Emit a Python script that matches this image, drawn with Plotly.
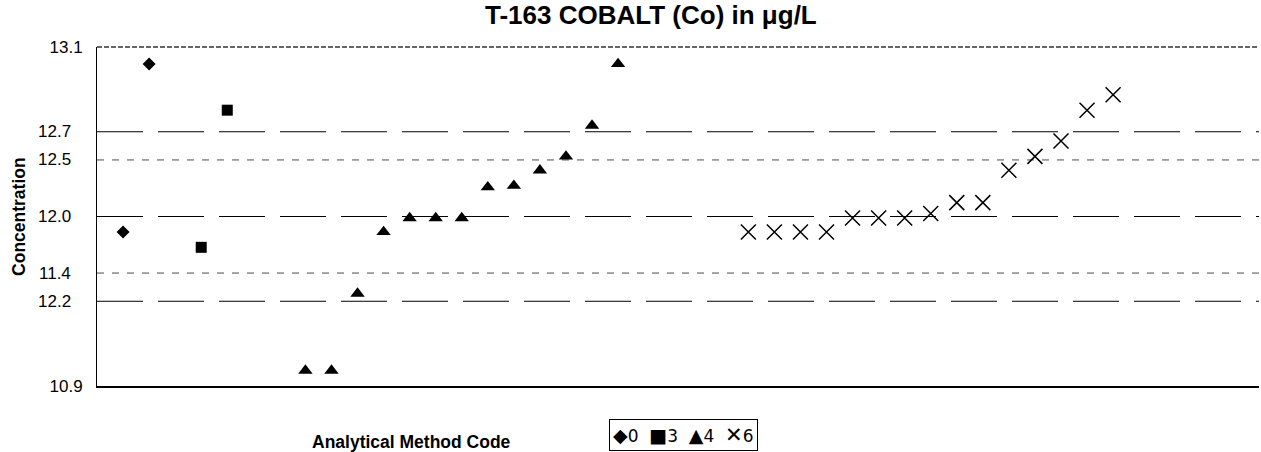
import plotly.graph_objects as go

# ---- data ----
method_codes = ["0", "3", "4", "6"]
legend_symbols = ["◆", "■", "▲", "✕"]

diamond_x = [1, 2]
diamond_y = [11.90, 12.99]

square_x = [4, 5]
square_y = [11.80, 12.69]

tri_x = [8, 9, 10, 11, 12, 13, 14, 15, 16, 17, 18, 19, 20]
tri_y = [11.00, 11.00, 11.50, 11.90, 11.99, 11.99, 11.99, 12.19, 12.20, 12.30, 12.39, 12.59, 12.99]

cross_x = [25, 26, 27, 28, 29, 30, 31, 32, 33, 34, 35, 36, 37, 38, 39]
cross_y = [11.90, 11.90, 11.90, 11.90, 11.99, 11.99, 11.99, 12.02, 12.09, 12.09, 12.30, 12.39, 12.49, 12.69, 12.79]

# reference lines (mean, +/- limits) and their printed labels
long_dash_y = [12.55, 12.0, 11.45]
short_dash_y = [12.367, 11.633]
inner_label_y = [12.55, 12.367, 12.0, 11.633, 11.45]
inner_label_text = ["12.7", "12.5", "12.0", "11.4", "12.2"]
axis_tick_y = [10.9, 13.1]
axis_tick_text = ["10.9", "13.1"]

y_range = [10.9, 13.1]
x_range = [0, 44.6]

FONT = "Liberation Sans, Arial, sans-serif"

fig = go.Figure()
fig.add_trace(go.Scatter(x=diamond_x, y=diamond_y, mode="markers", name=method_codes[0],
                         marker=dict(symbol="diamond", size=10, color="black")))
fig.add_trace(go.Scatter(x=square_x, y=square_y, mode="markers", name=method_codes[1],
                         marker=dict(symbol="square", size=11, color="black")))
fig.add_trace(go.Scatter(x=tri_x, y=tri_y, mode="markers", name=method_codes[2],
                         marker=dict(symbol="triangle-up", size=12.5, color="black")))
fig.add_trace(go.Scatter(x=cross_x, y=cross_y, mode="markers", name=method_codes[3],
                         marker=dict(symbol="x-thin-open", size=15, color="black",
                                     line=dict(color="black", width=1.5))))

for yv in long_dash_y:
    fig.add_shape(type="line", xref="paper", x0=0, x1=1, yref="y", y0=yv, y1=yv,
                  line=dict(color="black", width=1, dash="46px,15px"), layer="below")
for yv in short_dash_y:
    fig.add_shape(type="line", xref="paper", x0=0, x1=1, yref="y", y0=yv, y1=yv,
                  line=dict(color="#4d4d4d", width=1, dash="7px,8px"), layer="below")
# top border line
fig.add_shape(type="line", xref="paper", x0=0, x1=1, yref="paper", y0=1, y1=1,
              line=dict(color="#333333", width=1.5, dash="5px,2px"), layer="below")

for yv, txt in zip(inner_label_y, inner_label_text):
    fig.add_annotation(x=-0.0207, xref="paper", y=yv, yref="y", text=txt, showarrow=False,
                       xanchor="right", yanchor="middle",
                       font=dict(family=FONT, size=17, color="black"))

fig.add_annotation(x=0.4768, xref="paper", y=1.094, yref="paper",
                   text="<b>T-163 COBALT (Co) in μg/L</b>", showarrow=False,
                   xanchor="center", yanchor="middle",
                   font=dict(family=FONT, size=26, color="black"))
fig.add_annotation(x=0.2703, xref="paper", y=-0.165, yref="paper",
                   text="<b>Analytical Method Code</b>", showarrow=False,
                   xanchor="center", yanchor="middle",
                   font=dict(family=FONT, size=17.5, color="black"))
fig.add_annotation(x=-0.0676, xref="paper", y=0.5, yref="paper",
                   text="<b>Concentration</b>", showarrow=False, textangle=-90,
                   xanchor="center", yanchor="middle",
                   font=dict(family=FONT, size=17.5, color="black"))

# legend box (symbol + method code)
sym_sizes = [19, 19, 19, 21]
legend_text = "\u00a0\u00a0".join(
    "<span style='font-size:%dpx'>%s</span>%s" % (sz, s, c)
    for sz, s, c in zip(sym_sizes, legend_symbols, method_codes))
fig.add_annotation(x=0.5047, xref="paper", y=-0.146, yref="paper",
                   text=legend_text, showarrow=False,
                   xanchor="center", yanchor="middle",
                   bordercolor="black", borderwidth=1, borderpad=3, bgcolor="white",
                   font=dict(family="DejaVu Sans, Liberation Sans, sans-serif", size=17, color="black"))

fig.update_layout(
    width=1261, height=452,
    margin=dict(l=97, r=2, t=47, b=66, autoexpand=False),
    paper_bgcolor="white", plot_bgcolor="white",
    font=dict(family=FONT, size=17, color="black"),
    showlegend=False,
    xaxis=dict(range=x_range, showgrid=False, zeroline=False, showticklabels=False,
               ticks="", showline=True, linecolor="black", linewidth=1.5, fixedrange=True),
    yaxis=dict(range=y_range, showgrid=False, zeroline=False, tickmode="array",
               tickvals=axis_tick_y, ticktext=axis_tick_text, ticks="",
               ticklabelstandoff=10,
               tickfont=dict(family=FONT, size=17, color="black"),
               showline=True, linecolor="black", linewidth=1, fixedrange=True),
)

fig.write_html("out.html", config={"displayModeBar": False},
               post_script="document.body.style.margin='0px';document.body.style.overflow='hidden';")
